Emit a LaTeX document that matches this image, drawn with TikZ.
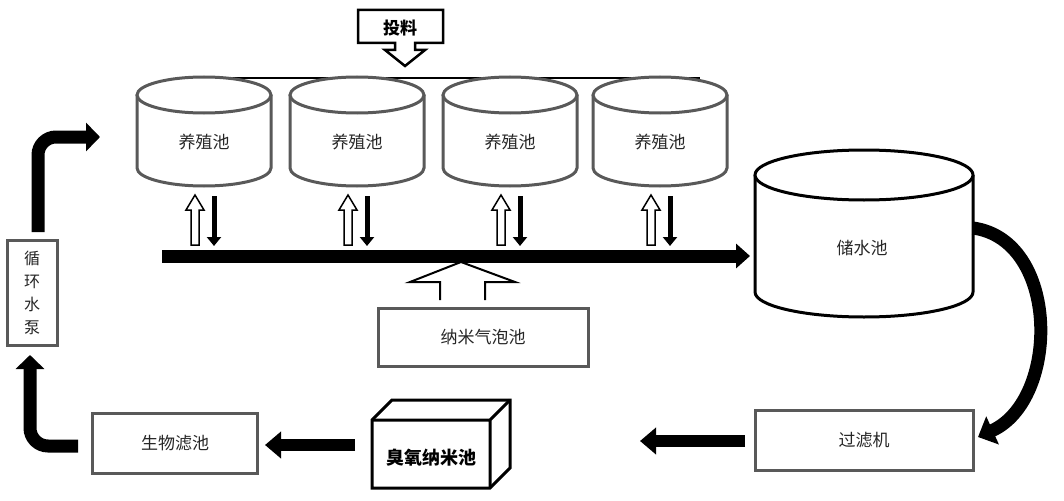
\documentclass[tikz,border=0pt]{standalone}
\usepackage{fontspec}
\setmainfont{Noto Sans CJK SC}
\usetikzlibrary{arrows.meta}
\begin{document}
\begin{tikzpicture}[x=1pt,y=-1pt,
  lbl/.style={font=\fontsize{17}{19}\selectfont, text=black!85},
  box/.style={draw=black!65, line width=3pt, fill=white, minimum width=#1},
  fat/.style={line width=12pt, -{Triangle[length=16pt,width=26pt]}},
  hol/.style={draw=black, line width=1.5pt, fill=white}]
\useasboundingbox (0,0) rectangle (1064,500);
% feed
\draw[black, line width=2.5pt] (358,10)--(443,10)--(443,43)--(415,43)--(415,50)--(425,50)--(405,66)--(385,50)--(395,50)--(395,43)--(358,43)--cycle;
\node[font=\bfseries\fontsize{17}{19}\selectfont] (feed) at (400,28) {投料};
\draw[line width=2pt] (205,78)--(700,78);
% cylinders
\foreach \cx/\nm in {204/p1,357/p2,510/p3,660/p4}{
  \draw[draw=black!65, line width=3pt, fill=white] (\cx-67,95) -- (\cx-67,168) arc[start angle=180,end angle=0,x radius=67,y radius=18] -- (\cx+67,95);
  \draw[draw=black!65, line width=3pt, fill=white] (\cx,95) ellipse[x radius=67,y radius=18];
  \node[lbl] (\nm) at (\cx,142) {养殖池};
  \draw[hol] (\cx-13,245)--(\cx-13,210)--(\cx-18,210)--(\cx-9,195)--(\cx,210)--(\cx-5,210)--(\cx-5,245)--cycle;
  \draw[line width=5pt,-{Triangle[length=9pt,width=14pt]}] (\cx+10,196)--(\cx+10,246);
}
% main bar
\draw[line width=13pt,-{Triangle[length=14pt,width=24pt]}] (162,256)--(750,256);
% bubble arrow
\draw[hol, line width=2pt] (440,300)--(440,282)--(410,282)--(461,262)--(515,282)--(485,282)--(485,300);
\node[box=210pt, minimum height=58pt, lbl] (bub) at (483,337) {纳米气泡池};
% storage
\draw[line width=3pt, fill=white] (755,175) -- (755,292) arc[start angle=180,end angle=0,x radius=109,y radius=25] -- (973,175);
\draw[line width=3pt, fill=white] (864,175) ellipse[x radius=109,y radius=25];
\node[lbl] (st) at (862,248) {储水池};
% curved arrow
\draw[line width=13pt,-{Triangle[length=16pt,width=30pt]}] (973,228) .. controls (1060,240) and (1060,400) .. (978,437);
\node[box=218pt, minimum height=60pt, lbl] (fil) at (864,440) {过滤机};
\coordinate (fa) at (745,441);
\draw[fat] (fa) -- (640,441);
% ozone box
\draw[line width=3pt, fill=white] (372,420)--(392,400)--(510,400)--(510,468)--(490,488)--(372,488)--cycle;
\draw[line width=3pt] (372,420)--(490,420)--(510,400) (490,420)--(490,488);
\node[font=\bfseries\fontsize{18}{20}\selectfont] (oz) at (431,458) {臭氧纳米池};
\draw[fat] (355,445)--(265,445);
\node[box=165pt, minimum height=60pt, lbl] (bio) at (175,443) {生物滤池};
% pump
\node[box=50pt, minimum height=105pt, lbl, align=center, font=\fontsize{16}{23}\selectfont] (pump) at (32,293) {循\\环\\水\\泵};
\draw[line width=13pt, -{Triangle[length=14pt,width=28pt]}, rounded corners=18pt] (78,446)--(30,446)--(30,355);
\draw[line width=13pt, -{Triangle[length=14pt,width=28pt]}, rounded corners=18pt] (38,232)--(38,137)--(100,137);
\end{tikzpicture}
\end{document}
